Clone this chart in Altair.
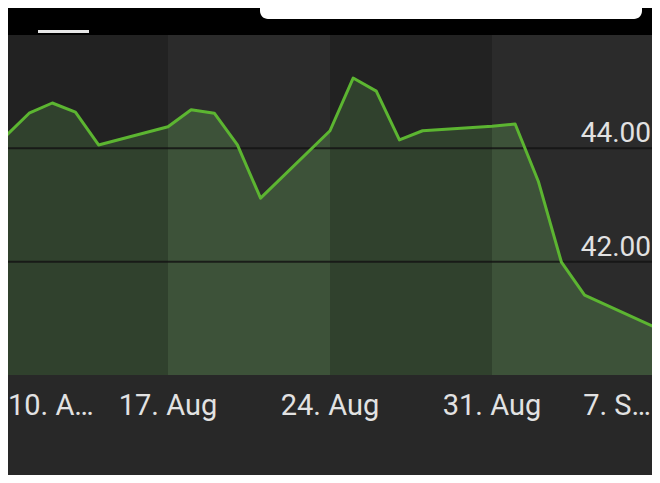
import altair as alt
import pandas as pd

# ---- data ----
dates = ["2020-08-10", "2020-08-11", "2020-08-12", "2020-08-13", "2020-08-14",
         "2020-08-17", "2020-08-18", "2020-08-19", "2020-08-20", "2020-08-21",
         "2020-08-24", "2020-08-25", "2020-08-26", "2020-08-27", "2020-08-28",
         "2020-08-31", "2020-09-01", "2020-09-02", "2020-09-03", "2020-09-04",
         "2020-09-07"]
prices = [44.22, 44.62, 44.80, 44.64, 44.06,
          44.38, 44.68, 44.62, 44.06, 43.12,
          44.31, 45.24, 45.01, 44.15, 44.31,
          44.39, 44.43, 43.42, 41.99, 41.41,
          40.85]
band_starts = ["2020-08-10", "2020-08-24"]
band_ends = ["2020-08-17", "2020-08-31"]
tick_dates = ["2020-08-10", "2020-08-17", "2020-08-24", "2020-08-31", "2020-09-07"]
tick_labels = ["10. A\u2026", "17. Aug", "24. Aug", "31. Aug", "7. S\u2026"]
y_ticks = [42, 44]
y_domain = [40, 46]
tabs = ["1M", "Todo"]
button_label = "TODOS LOS GRÁFICOS"

start = pd.Timestamp(dates[0])


def day(d):
    return int((pd.Timestamp(d) - start).days)


df = pd.DataFrame({"date": dates, "day": [day(d) for d in dates], "price": prices})
bands = pd.DataFrame({"x0": [day(d) for d in band_starts], "x1": [day(d) for d in band_ends]})
grid = pd.DataFrame({"v": y_ticks})
tick_days = [day(d) for d in tick_dates]
ticks = pd.DataFrame({"day": tick_days, "label": tick_labels})

W, H = 644, 340
FONT = "Roboto"
LABEL = "#e2e2e2"

# the series spans slightly more than the visible strip, as in the original screenshot
xs = alt.Scale(domain=[tick_days[0], tick_days[-1]], range=[-2, W + 2], nice=False, zero=False)
ys = alt.Scale(domain=y_domain, nice=False, zero=False)

one = alt.Data(values=[{"k": 0}])

header = alt.Chart(one).mark_rect(color="#000000").encode(
    x=alt.value(0), x2=alt.value(W), y=alt.value(-40), y2=alt.value(0))
button = alt.Chart(one).mark_rect(color="#ffffff", cornerRadius=8).encode(
    x=alt.value(252), x2=alt.value(634), y=alt.value(-45), y2=alt.value(-16))
underline = alt.Chart(one).mark_rect(color="#e6e6e6").encode(
    x=alt.value(30), x2=alt.value(81), y=alt.value(-5), y2=alt.value(-2))
tab1 = alt.Chart(one).mark_text(text=tabs[0], font=FONT, fontSize=28, fontWeight="bold",
                                 color="#ffffff", baseline="alphabetic").encode(
    x=alt.value(55), y=alt.value(-30))
tab2 = alt.Chart(one).mark_text(text=tabs[1], font=FONT, fontSize=28,
                                 color="#9a9a9a", baseline="alphabetic").encode(
    x=alt.value(159), y=alt.value(-30))
btn_text = alt.Chart(one).mark_text(text=button_label, font=FONT, fontSize=28,
                                     fontWeight="bold", color="#111111",
                                     baseline="alphabetic").encode(
    x=alt.value(443), y=alt.value(-30))

area = alt.Chart(df).mark_area(color="#3d5239", opacity=1, interpolate="linear").encode(
    x=alt.X("day:Q", scale=xs, axis=None),
    y=alt.Y("price:Q", scale=ys, axis=None),
    y2=alt.datum(y_domain[0]),
)

shade = alt.Chart(bands).mark_rect(color="#000000", opacity=0.2).encode(
    x=alt.X("x0:Q", scale=xs, axis=None),
    x2="x1:Q",
    y=alt.Y(datum=y_domain[1], scale=ys, axis=None),
    y2=alt.datum(y_domain[0]),
)

rules = alt.Chart(grid).mark_rule(color="#141414", opacity=0.85, strokeWidth=2).encode(
    y=alt.Y("v:Q", scale=ys, axis=None))

line = alt.Chart(df).mark_line(color="#5cb531", strokeWidth=3, strokeJoin="round",
                                interpolate="linear").encode(
    x=alt.X("day:Q", scale=xs, axis=None),
    y=alt.Y("price:Q", scale=ys, axis=None),
)

# x-axis labels (first flush left, last flush right, others centred on their tick)
first, last = tick_days[0], tick_days[-1]
xlab_kw = dict(font=FONT, fontSize=29, color=LABEL, baseline="alphabetic")
xlab_base = alt.Chart(ticks).encode(
    x=alt.X("day:Q", scale=xs, axis=None),
    y=alt.value(H + 40),
    text="label:N",
)
xlab_first = xlab_base.mark_text(align="left", dx=2, **xlab_kw).transform_filter(
    alt.datum.day == first)
xlab_mid = xlab_base.mark_text(align="center", **xlab_kw).transform_filter(
    (alt.datum.day > first) & (alt.datum.day < last))
xlab_last = xlab_base.mark_text(align="right", dx=-3, **xlab_kw).transform_filter(
    alt.datum.day == last)

# y-axis labels, right aligned inside the plot, just above their grid line
ylab = alt.Chart(grid).mark_text(font=FONT, fontSize=28, color=LABEL, align="right",
                                 baseline="alphabetic", dy=-6).encode(
    y=alt.Y("v:Q", scale=ys, axis=None),
    x=alt.value(W - 1),
    text=alt.Text("v:Q", format=".2f"),
)

chart = alt.layer(area, shade, rules, line, ylab, xlab_first, xlab_mid, xlab_last,
                  header, button, underline, tab1, tab2, btn_text).properties(
    width=W, height=H,
    padding={"left": 0, "top": 27, "right": 0, "bottom": 100},
    autosize=alt.AutoSizeParams(type="none"),
    background="#282828",
).configure_view(fill="#2b2b2b", strokeWidth=0)

chart.save("out.html", embed_options={"renderer": "svg", "actions": False})
